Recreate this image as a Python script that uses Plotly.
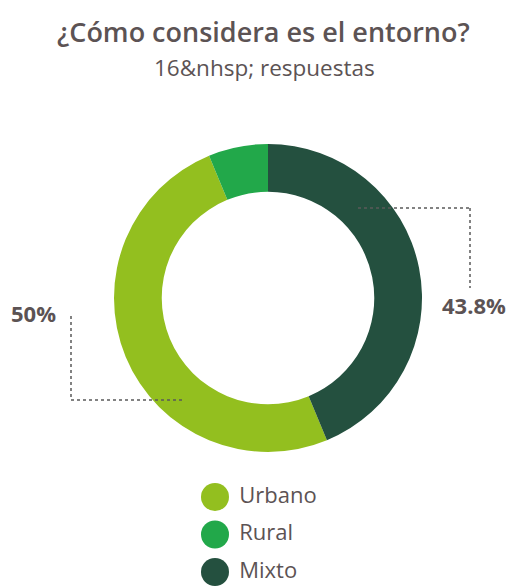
import plotly.graph_objects as go

# Survey answers (16 respuestas)
labels = ['Urbano', 'Rural', 'Mixto']
counts = [8, 1, 7]
colors = ['#93bf1f', '#22a84a', '#24503f']
pct_labels = ['50%', '', '43.8%']

# window size; the page body has an 8px margin, so the figure is drawn 8px in
W, H = 518, 586
OFF = 8
FW, FH = W - OFF, H - OFF
text_color = '#5c5354'


def px_x(x):
    return (x - OFF) / FW


def px_y(y):
    return 1 - (y - OFF) / FH


fig = go.Figure()

# Donut: starts at the Mixto/Urbano boundary so the order stays Urbano, Rural, Mixto
fig.add_trace(go.Pie(
    labels=labels,
    values=counts,
    marker=dict(colors=colors, line=dict(width=0)),
    hole=0.69,
    sort=False,
    direction='clockwise',
    rotation=360 * counts[2] / sum(counts),
    textinfo='none',
    hoverinfo='label+percent',
    showlegend=False,
    domain=dict(x=[px_x(114), px_x(422)], y=[px_y(452), px_y(144)]),
))

# Legend drawn as a scatter so the symbols can be big circles
fig.add_trace(go.Scatter(
    x=[0] * len(labels),
    y=list(range(len(labels))),
    mode='markers+text',
    marker=dict(size=28, color=colors, symbol='circle'),
    text=[' ' + l for l in labels],
    textposition='middle right',
    textfont=dict(size=22, color=text_color, family='Open Sans'),
    hoverinfo='skip',
    showlegend=False,
    xaxis='x', yaxis='y',
))

marker_x = 215 - OFF
first_row = 497 - OFF
row_gap = 37.5
top_px = 470
v_top = -(first_row - top_px) / row_gap
v_bot = v_top + (FH - top_px) / row_gap
fig.update_layout(
    xaxis=dict(domain=[0, 1], range=[-marker_x, FW - marker_x], visible=False, fixedrange=True),
    yaxis=dict(domain=[0, 1 - top_px / FH], range=[v_bot, v_top], visible=False, fixedrange=True),
)

# Leader lines for the percentage labels
dash = dict(color='#5a5a5a', width=1.5, dash='3px,3px')
leaders = [
    [(71, 316), (71, 400), (184, 400)],
    [(358, 208), (470, 208), (470, 288)],
]
for pts in leaders:
    for (x0, y0), (x1, y1) in zip(pts[:-1], pts[1:]):
        fig.add_shape(type='line', xref='paper', yref='paper',
                      x0=px_x(x0), y0=px_y(y0), x1=px_x(x1), y1=px_y(y1), line=dash)

label_pos = [(33, 313), None, (474, 305)]
for txt, pos in zip(pct_labels, label_pos):
    if not txt:
        continue
    fig.add_annotation(text='<b>' + txt + '</b>', x=px_x(pos[0]), y=px_y(pos[1]),
                       xref='paper', yref='paper', showarrow=False,
                       xanchor='center', yanchor='middle',
                       font=dict(size=22, color=text_color, family='Open Sans'))

# Title and subtitle
fig.add_annotation(text='¿Cómo considera es el entorno?', x=px_x(263), y=px_y(31),
                   xref='paper', yref='paper', showarrow=False,
                   xanchor='center', yanchor='middle',
                   font=dict(size=27, color=text_color, family='Open Sans', weight=600))
fig.add_annotation(text='16&amp;nhsp; respuestas', x=px_x(264), y=px_y(67),
                   xref='paper', yref='paper', showarrow=False,
                   xanchor='center', yanchor='middle',
                   font=dict(size=22.5, color=text_color, family='Open Sans'))

fig.update_layout(
    width=FW, height=FH,
    margin=dict(l=0, r=0, t=0, b=0),
    paper_bgcolor='white',
    plot_bgcolor='white',
)

fig.write_html('out.html')
